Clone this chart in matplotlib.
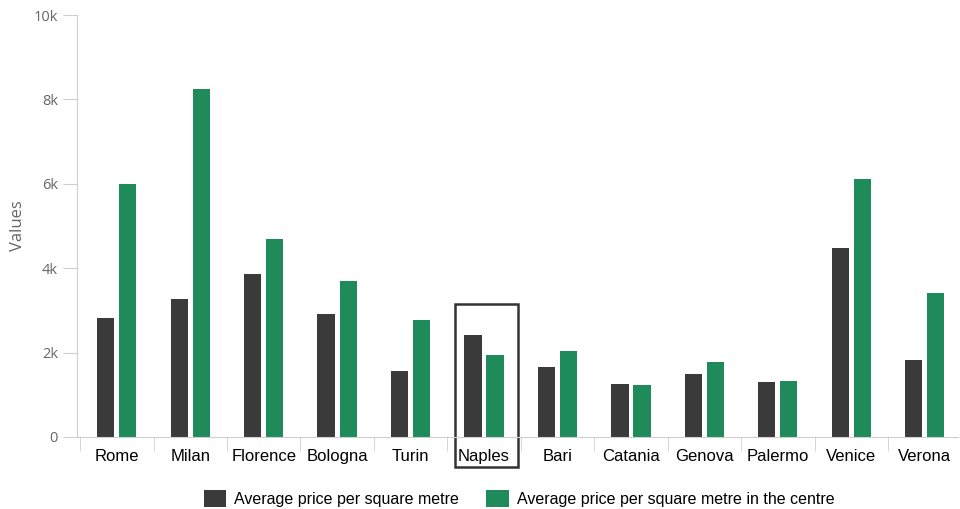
import numpy as np
import matplotlib.pyplot as plt
from matplotlib.patches import Rectangle
from matplotlib.ticker import FuncFormatter

cities = ['Rome', 'Milan', 'Florence', 'Bologna', 'Turin', 'Naples',
          'Bari', 'Catania', 'Genova', 'Palermo', 'Venice', 'Verona']
avg_price = [2820, 3270, 3860, 2910, 1560, 2420, 1660, 1260, 1490, 1300, 4470, 1820]
avg_price_centre = [6000, 8250, 4690, 3700, 2770, 1940, 2040, 1230, 1780, 1330, 6110, 3420]
series_names = ['Average price per square metre',
                'Average price per square metre in the centre']

DARK = '#3a3a3a'
GREEN = '#1f8a5a'
GRID = '#cfcfcf'

fig = plt.figure(figsize=(9.6, 5.09), dpi=100)
ax = fig.add_axes([0.080, 0.1415, 0.918, 0.829])

x = np.arange(len(cities))
w = 0.235
ax.bar(x - 0.15, avg_price, w, color=DARK, label=series_names[0])
ax.bar(x + 0.15, avg_price_centre, w, color=GREEN, label=series_names[1])

ax.set_xlim(-0.545, 11.455)
ax.set_ylim(0, 10000)
ax.set_yticks(range(0, 10001, 2000))
ax.yaxis.set_major_formatter(FuncFormatter(lambda v, p: '0' if v == 0 else f'{int(v/1000)}k'))

for s in ['top', 'right']:
    ax.spines[s].set_visible(False)
ax.spines['left'].set_color(GRID)
ax.spines['bottom'].set_color(GRID)
ax.tick_params(axis='y', colors='#666666', length=10, color=GRID, labelsize=10.5)
for lbl in ax.get_yticklabels():
    lbl.set_family('Open Sans')

# category labels, separators as minor ticks
ax.set_xticks(x)
ax.set_xticklabels(cities, fontsize=12, family='Liberation Sans', color='black')
ax.tick_params(axis='x', length=0, pad=9)
ax.set_xticks(np.arange(-0.5, 11.5, 1.0), minor=True)
ax.tick_params(axis='x', which='minor', length=10, color=GRID)

ax.set_ylabel('Values', color='#666666', fontsize=12, family='Open Sans')
ax.yaxis.set_label_coords(-0.058, 0.5)

# highlight box around Naples
ax.add_patch(Rectangle((5 - 0.395, -700), 0.86, 3850, fill=False,
                       edgecolor='#333333', linewidth=1.8, clip_on=False))

ax.legend(loc='lower center', bbox_to_anchor=(0.502, -0.2), ncol=2, frameon=False,
          prop={'family': 'Liberation Sans', 'size': 11.5},
          handlelength=1.4, handleheight=1.3, handletextpad=0.5, columnspacing=1.7)

fig.savefig('out.png', dpi=100)
